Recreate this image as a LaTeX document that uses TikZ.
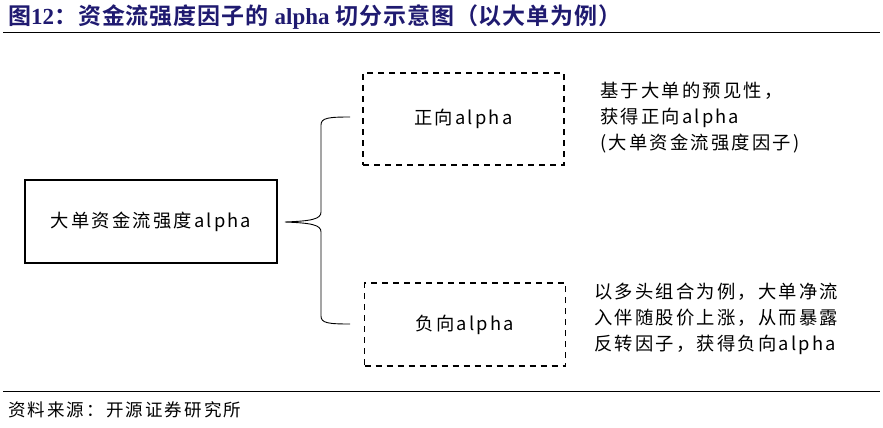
\documentclass[tikz,border=0pt]{standalone}
\usepackage{fontspec}
\newfontfamily\cjk[LetterSpace=12]{Noto Sans CJK SC}
\newfontfamily\cjkb[BoldFont={Noto Sans CJK SC Bold}, LetterSpace=4]{Noto Sans CJK SC}
\newfontfamily\serifb{Liberation Serif}
\definecolor{titleblue}{HTML}{1F1A70}
\begin{document}
\begin{tikzpicture}[x=1pt,y=-1pt,
  txt/.style={font=\cjk\fontsize{18.3}{26}\selectfont, inner sep=0pt},
  solidbox/.style={draw, line width=1.3pt, minimum width=252pt, minimum height=83pt, txt},
  dashbox/.style={draw, dashed, dash pattern=on 6pt off 5pt, line width=1.2pt, minimum width=201pt, txt},
  note/.style={txt, align=left, anchor=north west},
  rule/.style={line width=1pt}]
\useasboundingbox (0,0) rectangle (883,428);
% title
\node[anchor=base west, inner sep=0pt, text=titleblue, font=\fontsize{23}{24}\selectfont] (title) at (8,25)
  {\cjkb\bfseries 图\serifb\bfseries 12\cjkb\bfseries ：资金流强度因子的 \serifb\bfseries alpha \cjkb\bfseries 切分示意图（以大单为例）};
\coordinate (r1a) at (3,33); \coordinate (r1b) at (880,33);
\draw[rule] (r1a) -- (r1b);
% boxes
\node[solidbox] (main) at (151,221.5) {大单资金流强度alpha};
\node[dashbox, minimum height=92pt] (pos) at (463.5,119) {正向alpha};
\node[dashbox, minimum height=83pt] (neg) at (465,324.5) {负向alpha};
% brace
\coordinate (tip) at (285,222);
\coordinate (bt) at (350,117);
\coordinate (bb) at (350,324);
\draw[line width=0.9pt] (bt) .. controls (328,117) and (321,118) .. (321,125)
  -- (321,212) .. controls (321,219) and (312,221) .. (tip)
  .. controls (312,223) and (321,225) .. (321,232)
  -- (321,316) .. controls (321,323) and (328,324) .. (bb);
% notes
\node[note] (n1) at (600,82) {基于大单的预见性，\\获得正向alpha\\({}大单资金流强度因子)};
\node[note] (n2) at (594,283) {以多头组合为例，大单净流\\入伴随股价上涨，从而暴露\\反转因子，获得负向alpha};
% footer
\coordinate (r2a) at (3,391); \coordinate (r2b) at (880,391);
\draw[rule] (r2a) -- (r2b);
\node[anchor=base west, inner sep=0pt, font=\cjk\fontsize{17.5}{20}\selectfont] (src) at (8,416) {资料来源：开源证券研究所};
\end{tikzpicture}
\end{document}
